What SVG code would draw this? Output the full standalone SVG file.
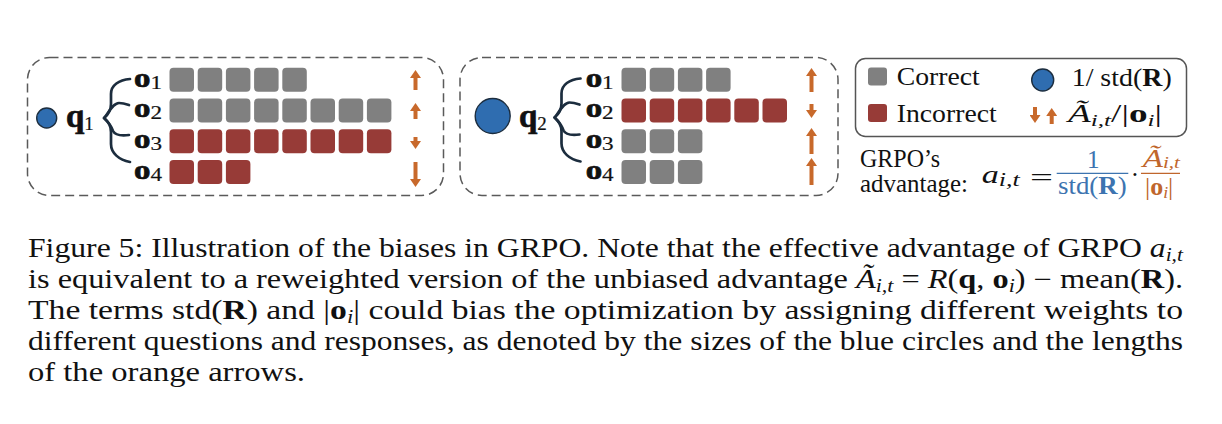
<svg xmlns="http://www.w3.org/2000/svg" width="1222" height="424" viewBox="0 0 1222 424">
<style>
.panel{fill:none;stroke:#5a5a5a;stroke-width:1.5;stroke-dasharray:9 5}
.gc{fill:#808080}
.ri{fill:#973b37}
.brace{fill:none;stroke:#1c2d3e;stroke-width:2.7;stroke-linecap:round;stroke-linejoin:round}
.arr{stroke:#c8692b;stroke-width:4;marker-end:url(#ah)}
.qc{fill:#2f6db0;stroke:#1c2d3e;stroke-width:1.4}
.lbl{font-family:"Liberation Serif",serif;font-weight:bold;font-size:27px;fill:#111;stroke:#111;stroke-width:0.7}
.ql{font-size:33px}
.sub{font-weight:normal;font-size:19px;stroke-width:0.2}
.txt{font-family:"Liberation Serif",serif;font-size:25px;fill:#111}
.cap{font-family:"Liberation Serif",serif;font-size:26.5px;fill:#111}
.it{font-style:italic}
.bf{font-weight:bold}
.blue{fill:#3d74b0}
.orng{fill:#c0662c}
</style>
<defs>
<rect id="b" width="24.5" height="24" rx="4"/>
<marker id="ah" viewBox="0 0 8 11" refX="3" refY="5.5" markerWidth="8" markerHeight="11" markerUnits="userSpaceOnUse" orient="auto"><path d="M0,0 L8,5.5 L0,11 z" fill="#c8692b"/></marker>
</defs>

<g id="panel1">
<rect class="panel" x="27.5" y="57.5" width="416" height="138" rx="22"/>
<circle class="qc" cx="46.7" cy="118" r="10"/>
<text class="lbl ql" x="66" y="127">q<tspan class="sub" font-size="21" dy="3">1</tspan></text>
<text class="lbl" x="134" y="86.5" textLength="28" lengthAdjust="spacingAndGlyphs">o<tspan class="sub" dy="2">1</tspan></text>
<text class="lbl" x="134" y="117.3" textLength="28" lengthAdjust="spacingAndGlyphs">o<tspan class="sub" dy="2">2</tspan></text>
<text class="lbl" x="134" y="148.1" textLength="28" lengthAdjust="spacingAndGlyphs">o<tspan class="sub" dy="2">3</tspan></text>
<text class="lbl" x="134" y="178.9" textLength="28" lengthAdjust="spacingAndGlyphs">o<tspan class="sub" dy="2">4</tspan></text>
<g class="gc">
<use href="#b" x="169.5" y="67.7"/><use href="#b" x="197.7" y="67.7"/><use href="#b" x="225.9" y="67.7"/><use href="#b" x="254.1" y="67.7"/><use href="#b" x="282.3" y="67.7"/>
<use href="#b" x="169.5" y="98.5"/><use href="#b" x="197.7" y="98.5"/><use href="#b" x="225.9" y="98.5"/><use href="#b" x="254.1" y="98.5"/><use href="#b" x="282.3" y="98.5"/><use href="#b" x="310.5" y="98.5"/><use href="#b" x="338.7" y="98.5"/><use href="#b" x="366.9" y="98.5"/>
</g>
<g class="ri">
<use href="#b" x="169.5" y="129.3"/><use href="#b" x="197.7" y="129.3"/><use href="#b" x="225.9" y="129.3"/><use href="#b" x="254.1" y="129.3"/><use href="#b" x="282.3" y="129.3"/><use href="#b" x="310.5" y="129.3"/><use href="#b" x="338.7" y="129.3"/><use href="#b" x="366.9" y="129.3"/>
<use href="#b" x="169.5" y="160.1"/><use href="#b" x="197.7" y="160.1"/><use href="#b" x="225.9" y="160.1"/>
</g>
</g>

<g id="panel2">
<rect class="panel" x="460" y="57.5" width="378" height="138" rx="22"/>
<circle class="qc" cx="492.7" cy="116" r="17.5"/>
<text class="lbl ql" x="519" y="127">q<tspan class="sub" font-size="21" dy="3">2</tspan></text>
<text class="lbl" x="585.7" y="86.5" textLength="28" lengthAdjust="spacingAndGlyphs">o<tspan class="sub" dy="2">1</tspan></text>
<text class="lbl" x="585.7" y="117.3" textLength="28" lengthAdjust="spacingAndGlyphs">o<tspan class="sub" dy="2">2</tspan></text>
<text class="lbl" x="585.7" y="148.1" textLength="28" lengthAdjust="spacingAndGlyphs">o<tspan class="sub" dy="2">3</tspan></text>
<text class="lbl" x="585.7" y="178.9" textLength="28" lengthAdjust="spacingAndGlyphs">o<tspan class="sub" dy="2">4</tspan></text>
<g class="gc">
<use href="#b" x="621.5" y="67.7"/><use href="#b" x="649.7" y="67.7"/><use href="#b" x="677.9" y="67.7"/><use href="#b" x="706.1" y="67.7"/>
<use href="#b" x="621.5" y="129.3"/><use href="#b" x="649.7" y="129.3"/><use href="#b" x="677.9" y="129.3"/>
<use href="#b" x="621.5" y="160.1"/><use href="#b" x="649.7" y="160.1"/><use href="#b" x="677.9" y="160.1"/>
</g>
<g class="ri">
<use href="#b" x="621.5" y="98.5"/><use href="#b" x="649.7" y="98.5"/><use href="#b" x="677.9" y="98.5"/><use href="#b" x="706.1" y="98.5"/><use href="#b" x="734.3" y="98.5"/><use href="#b" x="762.5" y="98.5"/>
</g>
</g>

<g id="connectors">
<g class="brace">
<path d="M104,118 C109,114 111,110 111,104 L111,94 C111,85 119,80 130,79"/>
<path d="M105,117 C110,110 114,103 119,103 C123,103 126,104 129,105"/>
<path d="M105,119 C110,124 112,128 113,131 C115,135 121,136 129,135"/>
<path d="M104,118 C109,122 111,126 111,132 L111,144 C111,153 119,160 130,162"/>
</g>
<g class="brace" transform="translate(450.5,-0.5)">
<path d="M104,118 C109,114 111,110 111,104 L111,94 C111,85 119,80 130,79"/>
<path d="M105,117 C110,110 114,103 119,103 C123,103 126,104 129,105"/>
<path d="M105,119 C110,124 112,128 113,131 C115,135 121,136 129,135"/>
<path d="M104,118 C109,122 111,126 111,132 L111,144 C111,153 119,160 130,162"/>
</g>
<line class="arr" x1="415.5" y1="90" x2="415.5" y2="75"/>
<line class="arr" x1="415.5" y1="119" x2="415.5" y2="108"/>
<line class="arr" x1="415.5" y1="137" x2="415.5" y2="144"/>
<line class="arr" x1="415.5" y1="162" x2="415.5" y2="182"/>
<line class="arr" x1="811.5" y1="92" x2="811.5" y2="73"/>
<line class="arr" x1="811.5" y1="104" x2="811.5" y2="113"/>
<line class="arr" x1="811.5" y1="154" x2="811.5" y2="133"/>
<line class="arr" x1="811.5" y1="185" x2="811.5" y2="163"/>
</g>

<g id="legend">
<rect x="855.5" y="58.5" width="331" height="78" rx="10" fill="none" stroke="#555" stroke-width="1.5"/>
<rect class="gc" x="868" y="67.5" width="19" height="18" rx="3"/>
<rect class="ri" x="868" y="104" width="19" height="18" rx="3"/>
<text class="txt" x="896.7" y="85" textLength="83" lengthAdjust="spacingAndGlyphs">Correct</text>
<text class="txt" x="896.7" y="121.7" textLength="100" lengthAdjust="spacingAndGlyphs">Incorrect</text>
<circle class="qc" cx="1042.7" cy="80" r="11"/>
<text class="txt" x="1071.7" y="85.5" textLength="100" lengthAdjust="spacingAndGlyphs">1/ std(<tspan class="bf">R</tspan>)</text>
<line class="arr" x1="1035" y1="107" x2="1035" y2="118"/>
<line class="arr" x1="1051.7" y1="124" x2="1051.7" y2="113"/>
<text class="txt" x="1068" y="121.7" textLength="94" lengthAdjust="spacingAndGlyphs"><tspan class="it">Ã</tspan><tspan class="it" font-size="17" dy="4">i,t</tspan><tspan dy="-4">/|</tspan><tspan class="bf">o</tspan><tspan class="it" font-size="17" dy="4">i</tspan><tspan dy="-4">|</tspan></text>
</g>

<g id="formula">
<text class="txt" x="860" y="166.7" font-size="21" textLength="80" lengthAdjust="spacingAndGlyphs">GRPO’s</text>
<text class="txt" x="860" y="191.7" font-size="21" textLength="108" lengthAdjust="spacingAndGlyphs">advantage:</text>
<text class="txt" x="981.7" y="183" font-size="28" textLength="38" lengthAdjust="spacingAndGlyphs"><tspan class="it">a</tspan><tspan class="it" font-size="19" dy="3">i,t</tspan></text>
<text class="txt" x="1030" y="185.5" font-size="34" textLength="23" lengthAdjust="spacingAndGlyphs">=</text>
<text class="txt blue" x="1093.3" y="168.3" text-anchor="middle">1</text>
<line x1="1056.7" y1="173.3" x2="1128.3" y2="173.3" stroke="#3d74b0" stroke-width="1.3"/>
<text class="txt blue" x="1058" y="194" textLength="68.7" lengthAdjust="spacingAndGlyphs">std(<tspan class="bf">R</tspan>)</text>
<text class="txt" x="1135" y="183" font-size="28" text-anchor="middle">·</text>
<text class="txt orng" x="1142.7" y="166.5" textLength="37.3" lengthAdjust="spacingAndGlyphs"><tspan class="it">Ã</tspan><tspan class="it" font-size="16" dy="1.5">i,t</tspan></text>
<line x1="1141" y1="173.3" x2="1180" y2="173.3" stroke="#c0662c" stroke-width="1.3"/>
<text class="txt orng" x="1145" y="195" textLength="28.3" lengthAdjust="spacingAndGlyphs">|<tspan class="bf">o</tspan><tspan class="it" font-size="17" dy="3">i</tspan><tspan dy="-3">|</tspan></text>
</g>

<g id="caption">
<text class="cap" x="28" y="257" textLength="1155" lengthAdjust="spacingAndGlyphs">Figure 5: Illustration of the biases in GRPO. Note that the effective advantage of GRPO <tspan class="it">a</tspan><tspan class="it" font-size="18" dy="4">i,t</tspan></text>
<text class="cap" x="28" y="288" textLength="1155" lengthAdjust="spacingAndGlyphs">is equivalent to a reweighted version of the unbiased advantage <tspan class="it">Ã</tspan><tspan class="it" font-size="18" dy="4">i,t</tspan><tspan dy="-4"> = </tspan><tspan class="it">R</tspan>(<tspan class="bf">q</tspan>, <tspan class="bf">o</tspan><tspan class="it" font-size="18" dy="4">i</tspan><tspan dy="-4">) − mean(</tspan><tspan class="bf">R</tspan>).</text>
<text class="cap" x="28" y="319" textLength="1155" lengthAdjust="spacingAndGlyphs">The terms std(<tspan class="bf">R</tspan>) and |<tspan class="bf">o</tspan><tspan class="it" font-size="18" dy="4">i</tspan><tspan dy="-4">| could bias the optimization by assigning different weights to</tspan></text>
<text class="cap" x="28" y="350" textLength="1155" lengthAdjust="spacingAndGlyphs">different questions and responses, as denoted by the sizes of the blue circles and the lengths</text>
<text class="cap" x="28" y="381" textLength="277" lengthAdjust="spacingAndGlyphs">of the orange arrows.</text>
</g>
</svg>
